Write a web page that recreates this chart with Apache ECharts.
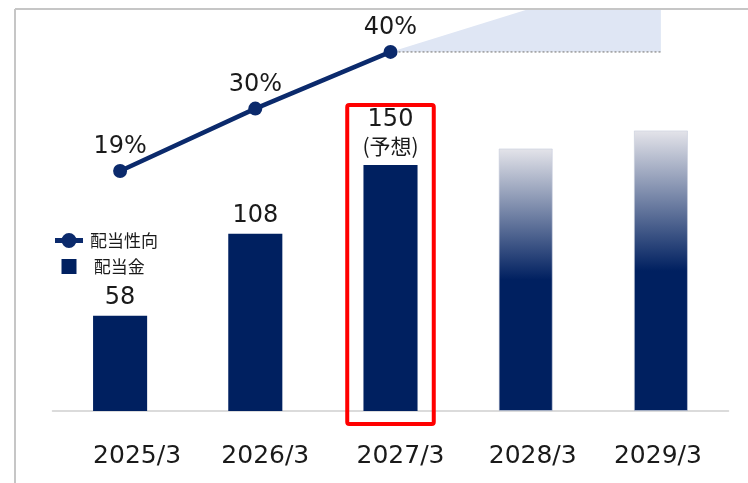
<!DOCTYPE html>
<html>
<head>
<meta charset="utf-8">
<script src="https://cdn.jsdelivr.net/npm/echarts@6/dist/echarts.min.js"></script>
<style>
  html, body { margin: 0; padding: 0; background: #ffffff; }
  #chart { width: 748px; height: 483px; }
</style>
</head>
<body>
<div id="chart"></div>
<script>
// ---- data ----
const categories = ['2025/3', '2026/3', '2027/3', '2028/3', '2029/3'];
const dividend = [58, 108, 150, 160, 171];            // 配当金
const dividendLabels = ['58', '108', '150', '', ''];
const payoutRatio = [19, 30, 40, null, null];         // 配当性向 (%)
const forecastIndex = 2;                              // 2027/3 (予想)
const projectedIdx = [3, 4];                          // future bars (gradient)
// shaded target band after 2027/3 (category position, ratio %)
const shadeX = [2, 3, 4.05];
const shadeTop = [40, 47.4, 47.4];
const shadeBase = 40;

const NAVY = '#002060';
const LINE = '#0b2a6c';
const NUMFONT = "'DejaVu Sans', 'Noto Sans CJK JP', sans-serif";
const JPFONT = "'Noto Sans CJK JP', sans-serif";

// label nudges (px) to mimic the slide's hand-placed text boxes
const xLabelNudge = [17, 10, 10, 7, -3];
const xRich = {};
xLabelNudge.forEach((n, i) => {
  xRich['s' + i] = {
    fontFamily: NUMFONT, fontSize: 25, color: '#1a1a1a',
    padding: n >= 0 ? [0, 0, 0, 2 * n] : [0, -2 * n, 0, 0]
  };
});

const barData = dividend.map((v, i) => {
  const item = { value: v };
  if (projectedIdx.includes(i)) {
    item.itemStyle = {
      color: new echarts.graphic.LinearGradient(0, 0, 0, 1, [
        { offset: 0, color: '#e4e4ea' },
        { offset: 0.5, color: NAVY },
        { offset: 1, color: NAVY }
      ]),
      borderColor: 'rgba(200,205,220,0.6)',
      borderWidth: 1
    };
  }
  return item;
});

const chart = echarts.init(document.getElementById('chart'), null, { renderer: 'canvas' });

chart.setOption({
  animation: false,
  backgroundColor: '#ffffff',
  grid: { left: 52.5, right: 19.5, top: 9, bottom: 72, containLabel: false },
  graphic: [
    { type: 'line', shape: { x1: 15, y1: 9, x2: 748, y2: 9 }, style: { stroke: '#c6c6c6', lineWidth: 2 }, z: 100 },
    { type: 'line', shape: { x1: 15, y1: 9, x2: 15, y2: 483 }, style: { stroke: '#c6c6c6', lineWidth: 2 }, z: 100 }
  ],
  legend: {
    orient: 'vertical',
    left: 55,
    top: 232,
    padding: 0,
    itemWidth: 28,
    itemHeight: 15,
    itemGap: 9,
    symbolKeepAspect: true,
    textStyle: { fontFamily: JPFONT, fontSize: 17, color: '#1a1a1a', padding: [0, 0, 0, 2] },
    formatter: name => name === '配当金' ? ' ' + name : name,
    data: [
      { name: '配当性向', icon: 'path://M0,5H28V10H0Z M6.5,7.5A7.5,7.5 0 1,1 21.5,7.5A7.5,7.5 0 1,1 6.5,7.5Z' },
      { name: '配当金', icon: 'path://M0,0H10V10H0Z' }
    ]
  },
  xAxis: {
    type: 'category',
    data: categories,
    boundaryGap: true,
    axisLine: { show: true, lineStyle: { color: '#cfcfcf', width: 1.5 } },
    axisTick: { show: false },
    axisLabel: {
      interval: 0,
      hideOverlap: false,
      fontFamily: NUMFONT, fontSize: 25, color: '#1a1a1a', margin: 33,
      formatter: (v, i) => '{s' + i + '|' + v + '}',
      rich: xRich
    }
  },
  yAxis: [
    { type: 'value', min: 0, max: 245, show: false, splitLine: { show: false } },
    { type: 'value', min: -23.33, max: 47.57, show: false, splitLine: { show: false } }
  ],
  series: [
    {
      name: '配当金',
      type: 'bar',
      yAxisIndex: 0,
      barWidth: '40%',
      itemStyle: { color: NAVY },
      data: barData,
      label: {
        show: true,
        position: 'top',
        distance: 6,
        fontFamily: NUMFONT,
        fontSize: 24,
        color: '#1a1a1a',
        formatter: p => {
          const t = dividendLabels[p.dataIndex];
          if (!t) return '';
          if (p.dataIndex === forecastIndex) return '{a|' + t + '}\n{b|(予想)}';
          return t;
        },
        rich: {
          a: { fontFamily: NUMFONT, fontSize: 24, color: '#1a1a1a', lineHeight: 26 },
          b: { fontFamily: JPFONT, fontSize: 21, color: '#1a1a1a', lineHeight: 26 }
        }
      },
      z: 2
    },
    {
      name: 'shade',
      type: 'custom',
      yAxisIndex: 1,
      silent: true,
      data: [0],
      z: 1,
      renderItem: (params, api) => {
        const top = shadeX.map((x, i) => api.coord([x, shadeTop[i]]));
        const bottom = shadeX.slice().reverse().map(x => api.coord([x, shadeBase]));
        const pts = top.concat(bottom);
        const a = api.coord([shadeX[0], shadeBase]);
        const b = api.coord([shadeX[shadeX.length - 1], shadeBase]);
        return {
          type: 'group',
          children: [
            { type: 'polygon', shape: { points: pts }, style: { fill: '#dfe6f4' } },
            { type: 'line', shape: { x1: a[0], y1: a[1], x2: b[0], y2: b[1] },
              style: { stroke: '#9a9a9a', lineWidth: 1.5, lineDash: [2, 2] } }
          ]
        };
      }
    },
    {
      name: 'box',
      type: 'custom',
      yAxisIndex: 0,
      silent: true,
      data: [[forecastIndex, dividend[forecastIndex]]],
      z: 5,
      renderItem: (params, api) => {
        const c = api.coord([api.value(0), api.value(1)]);
        const base = api.coord([api.value(0), 0]);
        const bw = api.size([1, 0])[0];
        const half = bw * 0.32;
        return {
          type: 'rect',
          shape: { x: c[0] - half, y: c[1] - 60, width: half * 2, height: base[1] + 13 - (c[1] - 60), r: 2 },
          style: { fill: 'none', stroke: '#ff0000', lineWidth: 4 }
        };
      }
    },
    {
      name: '配当性向',
      type: 'line',
      yAxisIndex: 1,
      data: payoutRatio,
      symbol: 'circle',
      symbolSize: 14,
      lineStyle: { color: LINE, width: 4.5 },
      itemStyle: { color: LINE },
      label: {
        show: true,
        position: 'top',
        distance: 5,
        fontFamily: NUMFONT,
        fontSize: 24,
        color: '#1a1a1a',
        formatter: p => p.value == null ? '' : p.value + '%'
      },
      z: 10
    }
  ]
});
</script>
</body>
</html>
